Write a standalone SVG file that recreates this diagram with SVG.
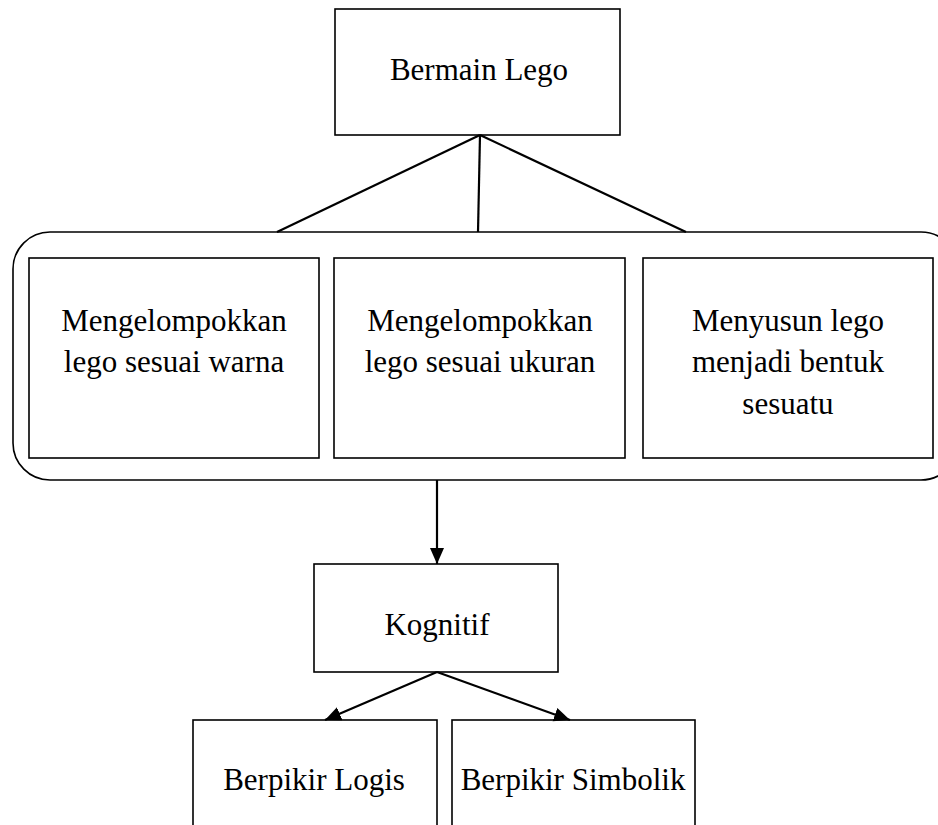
<svg xmlns="http://www.w3.org/2000/svg" width="938" height="825" viewBox="0 0 938 825">
<style>
.box{fill:#fff;stroke:#000;stroke-width:1.6}
.t{font-family:"Liberation Serif","Times New Roman",serif;font-size:31px;fill:#000;text-anchor:middle}
.c{fill:none;stroke:#000;stroke-width:2.2}
</style>
<defs>
<marker id="ah" markerUnits="userSpaceOnUse" markerWidth="18" markerHeight="16" refX="16" refY="7" orient="auto">
<path d="M0,0 L16,7 L0,14 Z" fill="#000"/>
</marker>
</defs>
<rect width="938" height="825" fill="#fff"/>
<g id="bermain-lego">
<rect class="box" x="335" y="9" width="285" height="126"/>
<text class="t" x="479" y="80">Bermain Lego</text>
</g>
<g id="group-container">
<rect class="box" x="13" y="232" width="945" height="248" rx="37" ry="37"/>
</g>
<g id="warna">
<rect class="box" x="29" y="258" width="290" height="200"/>
<text class="t" x="174" y="331">Mengelompokkan</text>
<text class="t" x="174" y="372">lego sesuai warna</text>
</g>
<g id="ukuran">
<rect class="box" x="334" y="258" width="291" height="200"/>
<text class="t" x="480" y="331">Mengelompokkan</text>
<text class="t" x="480" y="372">lego sesuai ukuran</text>
</g>
<g id="bentuk">
<rect class="box" x="643" y="258" width="290" height="200"/>
<text class="t" x="788" y="331">Menyusun lego</text>
<text class="t" x="788" y="372">menjadi bentuk</text>
<text class="t" x="788" y="414">sesuatu</text>
</g>
<g id="kognitif">
<rect class="box" x="314" y="564" width="244" height="108"/>
<text class="t" x="437" y="635">Kognitif</text>
</g>
<g id="logis">
<rect class="box" x="193" y="720" width="244" height="120"/>
<text class="t" x="314" y="790">Berpikir Logis</text>
</g>
<g id="simbolik">
<rect class="box" x="452" y="720" width="243" height="120"/>
<text class="t" x="573" y="790">Berpikir Simbolik</text>
</g>
<g id="connectors">
<line class="c" x1="480" y1="135" x2="277" y2="232"/>
<line class="c" x1="480" y1="135" x2="478" y2="232"/>
<line class="c" x1="480" y1="135" x2="686" y2="232"/>
<line class="c" x1="437" y1="480" x2="437" y2="564" marker-end="url(#ah)"/>
<line class="c" x1="437" y1="672" x2="325" y2="720" marker-end="url(#ah)"/>
<line class="c" x1="437" y1="672" x2="570" y2="720" marker-end="url(#ah)"/>
</g>
</svg>
